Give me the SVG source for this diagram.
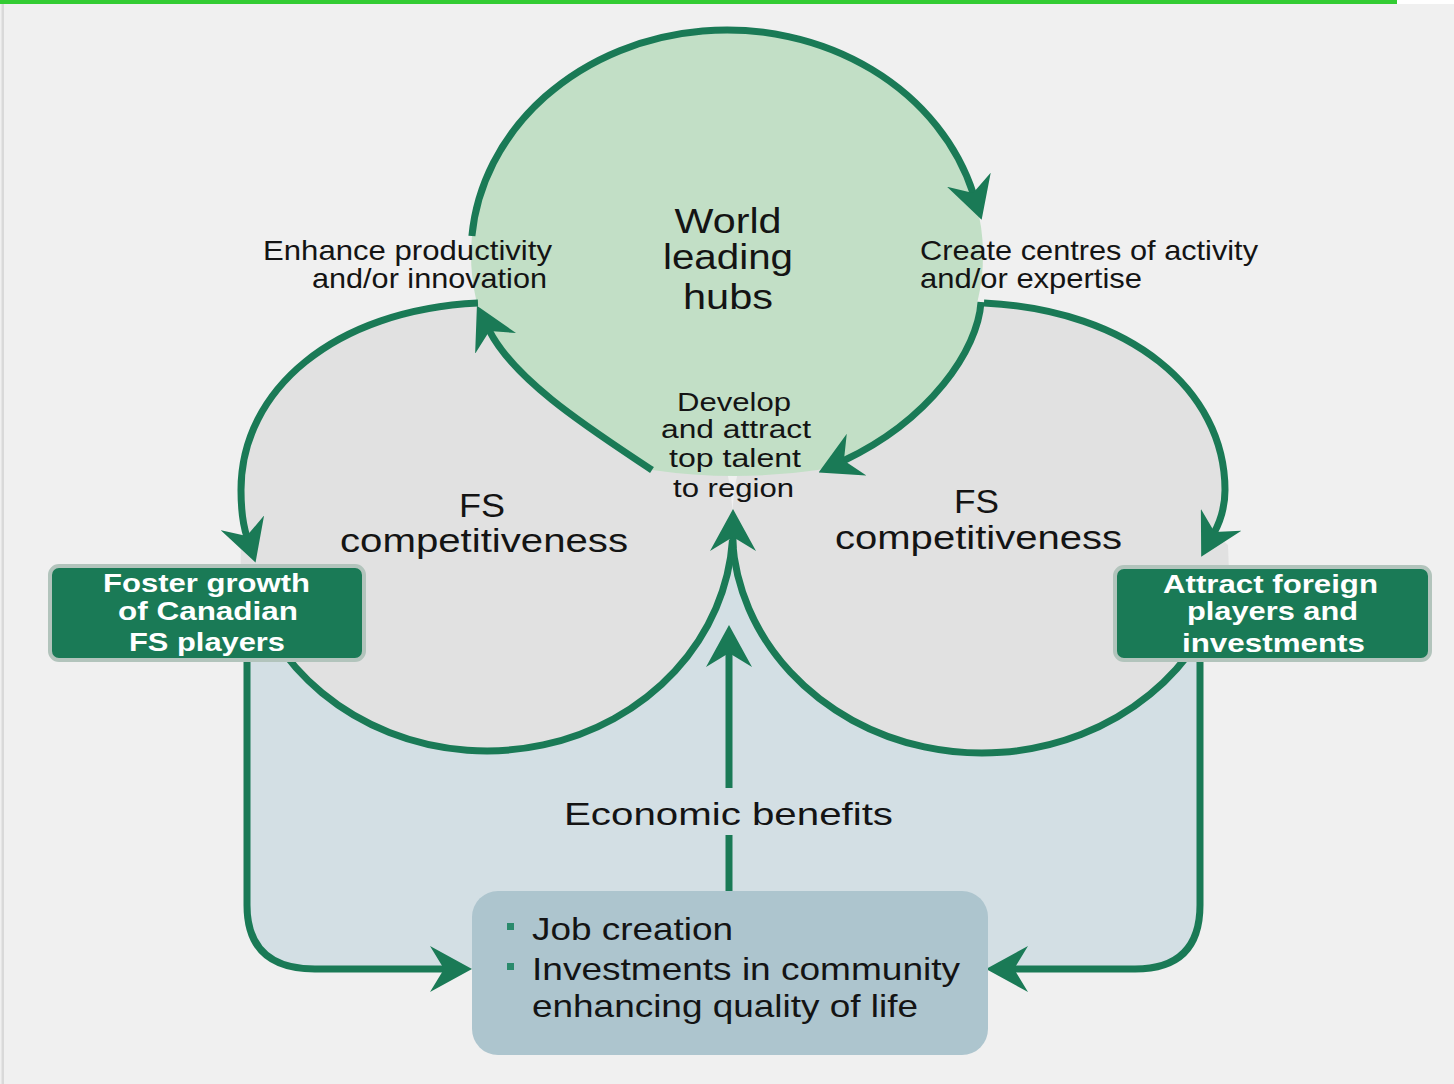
<svg xmlns="http://www.w3.org/2000/svg" width="1454" height="1084" viewBox="0 0 1454 1084">
<style>
.ln{fill:none;stroke:#1a7a56;stroke-width:7}
.arr{marker-end:url(#ah)}
.t{font-family:"Liberation Sans",Arial,sans-serif;fill:#141414}
.w{font-family:"Liberation Sans",Arial,sans-serif;fill:#ffffff;font-weight:bold;font-size:26px}
.box{fill:#1a7a56;stroke:#b2c4bc;stroke-width:4}
</style>
<defs>
<marker id="ah" markerUnits="userSpaceOnUse" markerWidth="42" markerHeight="46" viewBox="0 0 42 46" refX="15" refY="23" orient="auto">
<path d="M0,0 L42,23 L0,46 L14,23 Z" fill="#1a7a56"/>
</marker>
</defs>
<rect x="0" y="0" width="1454" height="1084" fill="#f0f0f0"/>
<rect x="0" y="0" width="1397" height="4" fill="#33cc33"/>
<rect x="1397" y="0" width="57" height="4" fill="#ffffff"/>
<rect x="1.5" y="4" width="2.5" height="1080" fill="#d9d9d9"/>

<g id="regions">
<path d="M247,560 V905 Q247,969 315,969 H1135 Q1200,969 1200,905 V560 Z" fill="#d3dfe4"/>
<path id="fs-left" d="M732.5,540 A246 225 0 0 1 274,638.5 L240,600 L241,545 L247,537 C242,522 241,505 241,490 C241,390 334,310 478,303 C646,300 733,400 733,526 Z" fill="#e1e1e1"/>
<path id="fs-right" d="M732.4,540 A250 226 0 0 0 1198.5,640 L1230,600 L1228,545 L1214,533 C1221,520 1225,505 1225,490 C1225,390 1130,310 986,303 C820,300 732,400 732,527 Z" fill="#e1e1e1"/>
<path id="hubs-fill" d="M476.2,300 A256 225 0 1 1 977.4,302 C976,350 930,420 843,461 L818,470 Q735,482 652,470 C595,432 515,382 489,330 Z" fill="#c2dfc6"/>
</g>

<g id="connectors">
<path class="ln arr" d="M471.9,236 A256 225 0 0 1 973.4,194"/>
<path class="ln arr" d="M652,470 C595,432 515,382 489,330"/>
<path class="ln arr" d="M981,302 C978,350 930,420 843,461"/>
<path class="ln arr" d="M478,303 C334,310 241,390 241,490 C241,505 242,522 247,537"/>
<path class="ln arr" d="M984,303 C1130,310 1225,390 1225,490 C1225,505 1221,520 1214,533"/>
<path class="ln" d="M274,638.5 A246 225 0 0 0 732.5,540"/>
<path class="ln" d="M1198.5,640 A250 226 0 0 1 732.4,540"/>
<path class="ln arr" d="M733,548 L733,536"/>
<path class="ln" d="M729,891 V835"/>
<path class="ln arr" d="M729,788 V652"/>
<path class="ln arr" d="M247,640 V905 Q247,969 315,969 H445"/>
<path class="ln arr" d="M1200,640 V905 Q1200,969 1135,969 H1013"/>
</g>

<g id="hubs">
<text class="t" font-size="35" x="728" y="233" text-anchor="middle" textLength="107" lengthAdjust="spacingAndGlyphs">World</text>
<text class="t" font-size="35" x="728" y="269" text-anchor="middle" textLength="130" lengthAdjust="spacingAndGlyphs">leading</text>
<text class="t" font-size="35" x="728" y="309" text-anchor="middle" textLength="90" lengthAdjust="spacingAndGlyphs">hubs</text>
</g>

<g id="lbl-enhance">
<text class="t" font-size="28" x="263" y="260" textLength="289" lengthAdjust="spacingAndGlyphs">Enhance productivity</text>
<text class="t" font-size="28" x="312" y="288" textLength="235" lengthAdjust="spacingAndGlyphs">and/or innovation</text>
</g>

<g id="lbl-create">
<text class="t" font-size="28" x="920" y="260" textLength="338" lengthAdjust="spacingAndGlyphs">Create centres of activity</text>
<text class="t" font-size="28" x="920" y="288" textLength="222" lengthAdjust="spacingAndGlyphs">and/or expertise</text>
</g>

<g id="lbl-develop">
<text class="t" font-size="26" x="677" y="411" textLength="114" lengthAdjust="spacingAndGlyphs">Develop</text>
<text class="t" font-size="26" x="661" y="438" textLength="150" lengthAdjust="spacingAndGlyphs">and attract</text>
<text class="t" font-size="26" x="669" y="467" textLength="132" lengthAdjust="spacingAndGlyphs">top talent</text>
<text class="t" font-size="26" x="673" y="497" textLength="121" lengthAdjust="spacingAndGlyphs">to region</text>
</g>

<g id="fs-left-label">
<text class="t" font-size="34" x="459" y="517" textLength="46" lengthAdjust="spacingAndGlyphs">FS</text>
<text class="t" font-size="34" x="340" y="552" textLength="288" lengthAdjust="spacingAndGlyphs">competitiveness</text>
</g>

<g id="fs-right-label">
<text class="t" font-size="34" x="954" y="513" textLength="45" lengthAdjust="spacingAndGlyphs">FS</text>
<text class="t" font-size="34" x="835" y="549" textLength="287" lengthAdjust="spacingAndGlyphs">competitiveness</text>
</g>

<g id="foster">
<rect class="box" x="50" y="566" width="314" height="94" rx="9"/>
<text class="w" x="103" y="592" textLength="207" lengthAdjust="spacingAndGlyphs">Foster growth</text>
<text class="w" x="118" y="620" textLength="180" lengthAdjust="spacingAndGlyphs">of Canadian</text>
<text class="w" x="129" y="651" textLength="156" lengthAdjust="spacingAndGlyphs">FS players</text>
</g>

<g id="attract">
<rect class="box" x="1115" y="567" width="315" height="93" rx="9"/>
<text class="w" x="1163" y="593" textLength="215" lengthAdjust="spacingAndGlyphs">Attract foreign</text>
<text class="w" x="1187" y="620" textLength="171" lengthAdjust="spacingAndGlyphs">players and</text>
<text class="w" x="1182" y="652" textLength="183" lengthAdjust="spacingAndGlyphs">investments</text>
</g>

<g id="econ-label">
<text class="t" font-size="32" x="564" y="825" textLength="329" lengthAdjust="spacingAndGlyphs">Economic benefits</text>
</g>

<g id="benefits">
<rect x="472" y="891" width="516" height="164" rx="26" fill="#adc5ce"/>
<rect x="507" y="923" width="7" height="7" fill="#2a8a6c"/>
<rect x="507" y="963" width="7" height="7" fill="#2a8a6c"/>
<text class="t" font-size="32" x="532" y="940" textLength="201" lengthAdjust="spacingAndGlyphs">Job creation</text>
<text class="t" font-size="32" x="532" y="980" textLength="428" lengthAdjust="spacingAndGlyphs">Investments in community</text>
<text class="t" font-size="32" x="532" y="1017" textLength="386" lengthAdjust="spacingAndGlyphs">enhancing quality of life</text>
</g>
</svg>
